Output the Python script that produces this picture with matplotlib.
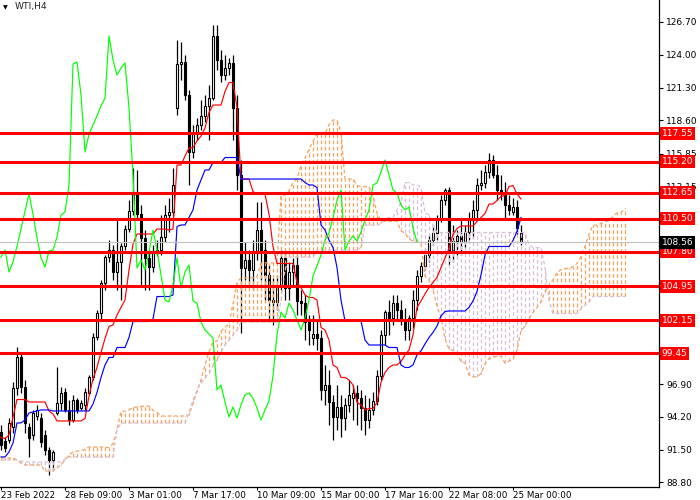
import numpy as np
import matplotlib
matplotlib.use("Agg")
import matplotlib.pyplot as plt
from matplotlib.patches import Rectangle
from matplotlib.transforms import blended_transform_factory

# ---------------- data (WTI, H4) ----------------
opens = [92.96, 92.22, 92.30, 93.37, 96.58, 99.13, 96.66, 93.37, 92.71, 94.27,
         94.11, 92.71, 91.47, 90.65, 94.52, 95.34, 96.25, 94.77, 93.94, 95.59,
         94.93, 95.18, 96.17, 97.48, 100.77, 102.75, 105.22, 107.36, 107.93, 106.12,
         106.95, 108.26, 109.66, 111.14, 112.54, 110.90, 108.92, 107.28, 106.54, 107.85,
         107.93, 109.00, 110.82, 111.06, 119.62, 123.24, 123.41, 120.69, 116.00, 117.48,
         118.22, 118.96, 119.79, 120.44, 125.55, 123.57, 122.34, 122.91, 123.33, 119.62,
         114.11, 106.45, 107.11, 106.29, 107.77, 109.58, 107.93, 105.88, 103.82, 103.66,
         105.05, 107.28, 104.81, 106.12, 106.70, 103.74, 103.57, 102.01, 100.69, 101.02,
         100.69, 96.41, 96.82, 95.43, 94.19, 95.01, 94.11, 95.18, 95.75, 96.17,
         95.75, 94.93, 93.94, 94.77, 95.51, 97.57, 100.94, 102.83, 102.34, 103.57,
         103.00, 102.17, 101.35, 102.34, 103.82, 105.80, 106.62, 107.52, 108.76, 109.33,
         110.57, 112.05, 112.87, 107.93, 108.68, 109.09, 108.68, 109.42, 110.40, 111.23,
         113.28, 113.45, 114.35, 115.34, 114.11, 112.87, 112.63, 111.64, 111.06, 111.47,
         109.33]
highs = [93.53, 92.54, 94.11, 97.07, 99.95, 99.46, 97.24, 93.70, 94.77, 95.18,
         94.52, 93.12, 91.72, 91.47, 98.31, 96.66, 96.58, 95.59, 96.00, 95.75,
         95.59, 96.58, 97.65, 101.10, 103.00, 105.47, 107.52, 108.76, 108.35, 110.40,
         108.51, 109.99, 112.05, 114.68, 114.52, 111.64, 109.58, 107.93, 108.35, 108.76,
         110.82, 111.64, 112.21, 114.68, 125.22, 125.05, 123.98, 121.10, 118.22, 118.80,
         120.28, 120.69, 121.51, 126.45, 126.45, 124.39, 123.98, 123.74, 123.98, 120.69,
         115.34, 108.59, 107.93, 108.76, 111.89, 111.89, 108.76, 106.70, 105.63, 105.88,
         107.93, 107.93, 106.95, 107.28, 107.52, 104.64, 104.23, 102.59, 102.59, 102.17,
         101.35, 98.47, 98.06, 96.00, 96.82, 96.00, 95.75, 97.24, 96.82, 96.82,
         96.41, 96.00, 95.75, 96.25, 98.06, 101.35, 103.00, 103.82, 104.23, 104.23,
         103.82, 103.16, 102.59, 104.64, 106.29, 106.95, 108.10, 109.17, 109.99, 110.82,
         112.46, 113.04, 113.12, 109.99, 109.58, 110.40, 109.99, 111.06, 112.05, 113.86,
         114.52, 114.93, 115.92, 115.75, 114.93, 114.11, 113.53, 112.46, 112.21, 112.05,
         109.99]
lows = [91.47, 91.31, 92.05, 92.87, 96.00, 96.17, 92.87, 90.90, 92.30, 93.94,
        91.72, 91.06, 89.42, 89.83, 94.36, 94.77, 94.60, 93.53, 93.78, 94.52,
        94.77, 94.77, 96.00, 97.24, 100.53, 102.17, 104.64, 106.95, 105.47, 104.64,
        103.82, 107.93, 109.42, 110.82, 110.40, 105.05, 104.64, 104.64, 106.12, 107.44,
        107.52, 108.59, 109.42, 110.73, 119.05, 121.93, 120.28, 113.28, 115.51, 116.99,
        117.81, 118.47, 116.99, 120.28, 122.75, 121.76, 121.93, 122.34, 116.99, 112.87,
        101.10, 105.47, 105.05, 104.64, 107.11, 105.47, 103.82, 102.17, 101.76, 103.00,
        104.64, 103.82, 103.82, 105.05, 102.59, 102.59, 100.53, 100.12, 100.12, 99.70,
        95.59, 95.18, 93.53, 92.30, 93.12, 92.54, 93.12, 94.60, 93.94, 93.53,
        93.12, 92.71, 93.29, 94.36, 95.18, 97.24, 100.12, 100.94, 101.76, 102.17,
        101.76, 100.53, 100.53, 101.52, 103.00, 105.30, 106.29, 106.95, 108.35, 108.76,
        110.24, 111.64, 106.70, 106.95, 107.52, 107.52, 108.10, 108.76, 108.92, 110.40,
        112.87, 113.04, 113.86, 113.86, 112.05, 112.05, 110.57, 110.82, 110.82, 109.17,
        108.35]
closes = [91.89, 91.64, 93.70, 96.58, 99.13, 96.66, 93.70, 92.46, 94.52, 94.77,
          92.13, 91.47, 90.65, 91.31, 95.34, 96.17, 94.77, 93.94, 95.59, 94.77,
          95.34, 96.25, 97.48, 100.77, 102.75, 105.22, 107.36, 107.93, 106.12, 106.95,
          108.26, 109.66, 111.14, 112.54, 110.90, 108.92, 107.28, 106.54, 107.85, 107.93,
          109.00, 110.82, 111.06, 113.28, 123.24, 123.41, 120.69, 116.00, 117.48, 118.22,
          118.96, 119.79, 120.44, 125.55, 123.57, 122.34, 122.91, 123.33, 119.62, 114.11,
          106.45, 107.11, 106.29, 107.77, 109.58, 107.93, 105.88, 103.82, 103.66, 105.05,
          107.28, 104.81, 106.12, 106.70, 103.74, 103.57, 102.01, 101.35, 101.02, 100.69,
          96.41, 96.82, 95.43, 94.19, 95.01, 94.11, 95.18, 96.00, 96.17, 95.75,
          94.93, 93.94, 94.77, 95.51, 97.57, 100.94, 102.83, 102.34, 103.57, 103.00,
          102.17, 101.35, 102.34, 103.82, 105.80, 106.62, 107.52, 108.76, 109.33, 110.57,
          112.05, 112.87, 107.93, 108.68, 109.09, 108.68, 109.42, 110.40, 111.23, 113.28,
          113.45, 114.35, 115.34, 114.11, 112.87, 112.63, 111.64, 111.23, 111.47, 109.75,
          108.56]

kijun_early = [90.90, 90.90, 91.31, 92.05, 93.70, 93.70, 93.94, 94.52, 94.60, 94.69,
               94.77, 94.77, 94.77]
span_a_early = [90.82, 90.82, 90.82, 90.82, 90.65, 90.40, 90.24, 90.24, 90.24, 90.24,
                90.24, 89.75, 89.75, 89.75, 89.99, 90.24, 90.65, 91.06, 91.31, 91.39,
                91.39, 91.56, 91.72, 91.72, 91.72, 91.72]
span_b_early = [90.65, 90.65, 90.65, 90.65, 90.65, 90.57, 90.49, 90.49, 90.49, 90.49,
                90.49, 90.49, 90.49, 90.49, 90.49, 90.49, 90.73, 90.90, 90.90, 90.90,
                90.90, 90.90, 90.90, 90.90, 90.90, 90.90, 90.90, 90.90, 90.90, 93.12,
                93.70, 93.70, 93.70, 93.70, 93.70, 93.70, 93.70, 93.70, 93.70, 93.70,
                93.70, 93.70, 93.70, 93.70, 93.70, 93.70, 93.70, 94.60, 95.59, 96.41,
                96.99, 97.40, 97.81, 98.39, 98.88, 99.54, 100.12, 100.53, 100.94, 101.35,
                102.01, 102.01, 102.01, 102.01, 102.01, 102.01, 102.01, 102.01, 102.01, 102.01,
                103.82, 106.29, 107.36, 107.36, 107.36, 107.36, 107.36, 107.36]

levels = [117.55, 115.20, 112.65, 110.50, 107.80, 104.95, 102.15, 99.45]
bid_price = 108.56
price_ticks = [126.70, 124.00, 121.30, 118.60, 115.85, 113.15, 96.90, 94.20, 91.50, 88.80]
time_labels = ["23 Feb 2022", "28 Feb 09:00", "3 Mar 01:00", "7 Mar 17:00",
               "10 Mar 09:00", "15 Mar 00:00", "17 Mar 16:00", "22 Mar 08:00",
               "25 Mar 00:00"]
time_label_bars = [0, 16, 32, 48, 64, 80, 96, 112, 128]

# ---------------- Ichimoku (9, 26, 52) ----------------
n = len(closes)
H = np.array(highs); L = np.array(lows); C = np.array(closes); O = np.array(opens)
tenkan = np.array([(H[max(0, i - 8):i + 1].max() + L[max(0, i - 8):i + 1].min()) / 2
                   for i in range(n)])
kijun = np.array([kijun_early[i] if i < len(kijun_early) else
                  (H[max(0, i - 25):i + 1].max() + L[max(0, i - 25):i + 1].min()) / 2
                  for i in range(n)])
m = n + 26
span_a = np.array([span_a_early[k] if k < 26 else (tenkan[k - 26] + kijun[k - 26]) / 2
                   for k in range(m)])
span_b = np.array([span_b_early[k] if k < len(span_b_early) else
                   (H[k - 77:k - 25].max() + L[k - 77:k - 25].min()) / 2 for k in range(m)])

plt.rcParams['font.family'] = ['DejaVu Sans']

fig = plt.figure(figsize=(7, 5), dpi=100)
fig.patch.set_facecolor('white')
ax = fig.add_axes([0, 13 / 500, 659 / 700, 487 / 500])
ax.set_xlim(-0.25, 164.5)
ax.set_ylim(128.51 - 487 / 12.15, 128.51)

PX = 0.72  # one pixel in points
SANDY = '#F4A460'
THISTLE = '#D8BFD8'
DASH = (0, (3, 2))

# candles
xs = np.arange(n)
ax.vlines(xs, L, H, colors='black', lw=0.9, zorder=2)
for i in range(n):
    o, c = O[i], C[i]
    lo, hi = min(o, c), max(o, c)
    bull = c >= o
    if hi - lo < 0.05:
        ax.hlines(c, i - 0.3, i + 0.3, colors='black', lw=0.9, zorder=3)
    else:
        ax.add_patch(Rectangle((i - 0.28, lo), 0.56, hi - lo,
                               facecolor='white' if bull else 'black',
                               edgecolor='black', lw=0.8, zorder=3))

# Ichimoku
xk = np.arange(m)
up = span_a > span_b
lo_k = np.minimum(span_a, span_b)
hi_k = np.maximum(span_a, span_b)
ax.vlines(xk[up], lo_k[up], hi_k[up], color=SANDY, lw=0.9, linestyle=DASH, zorder=4)
ax.vlines(xk[~up], lo_k[~up], hi_k[~up], color=THISTLE, lw=0.9, linestyle=DASH, zorder=4)
ax.plot(xk, span_a, color=SANDY, lw=0.9, ls=DASH, zorder=4.5)
ax.plot(xk, span_b, color=THISTLE, lw=0.9, ls=DASH, zorder=4.5)
ax.plot(xs, tenkan, color='#FF0000', lw=0.85, zorder=5)
ax.plot(xs, kijun, color='#0000FF', lw=0.85, zorder=5)
ax.plot(xs[:n - 26], C[26:], color='#00FF00', lw=0.85, zorder=5)

# bid line and horizontal levels
ax.axhline(bid_price, color='#C0C0C0', lw=0.8, zorder=5.5)
for lv in levels:
    ax.axhline(lv, color='#FF0000', lw=2.2, zorder=6)

# axes styling
for s in ['top', 'left']:
    ax.spines[s].set_visible(False)
for s in ['right', 'bottom']:
    ax.spines[s].set_color('black')
    ax.spines[s].set_linewidth(0.9)
ax.yaxis.tick_right()
ax.set_yticks(price_ticks)
ax.set_yticklabels([f"{p:.2f}" for p in price_ticks])
ax.tick_params(axis='y', direction='out', length=3, width=0.8, pad=2,
               labelsize=6.5, colors='black')
ax.set_xticks(time_label_bars)
ax.set_xticklabels(time_labels)
ax.tick_params(axis='x', direction='out', length=2.5, width=0.8, pad=0.5,
               labelsize=6.3, colors='black')
for lab in ax.get_xticklabels():
    lab.set_horizontalalignment('left')

tr = blended_transform_factory(ax.transAxes, ax.transData)
for lv in levels:
    ax.text(1.004, lv, f"{lv:.2f}", transform=tr, ha='left', va='center',
            fontsize=6.5, color='white', clip_on=False, zorder=10,
            bbox=dict(boxstyle='square,pad=0.22', facecolor='#FF0000', edgecolor='none'))
ax.text(1.004, bid_price, f"{bid_price:.2f}", transform=tr, ha='left', va='center',
        fontsize=6.5, color='white', clip_on=False, zorder=10,
        bbox=dict(boxstyle='square,pad=0.22', facecolor='black', edgecolor='none'))

fig.text(3 / 700, 1 - 8 / 500, "\u25BC", fontsize=4.5, color='black', va='center', ha='left')
fig.text(15 / 700, 1 - 7 / 500, "WTI,H4", fontsize=6.6, color='#222222', va='center', ha='left')

fig.savefig("out.png", dpi=100, facecolor='white')
